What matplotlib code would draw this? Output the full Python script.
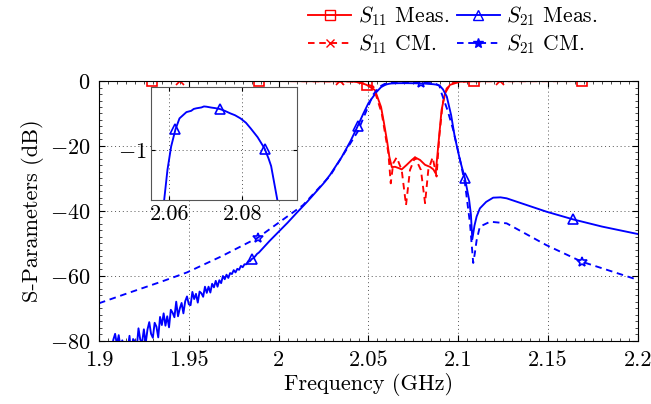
import numpy as np
import matplotlib
matplotlib.use("Agg")
import matplotlib.pyplot as plt
from matplotlib.lines import Line2D
from matplotlib.ticker import MultipleLocator

plt.rcParams['font.family'] = 'serif'
plt.rcParams['font.serif'] = ['cmr10']
plt.rcParams['mathtext.fontset'] = 'cm'
plt.rcParams['axes.formatter.use_mathtext'] = True
plt.rcParams['font.size'] = 16

s21_meas_lo_f = [round(1.900 + 0.001 * i, 3) for i in range(91)]
s21_meas_lo_db = [
    -85.5, -88.0, -83.8, -85.6, -81.4, -85.9, -87.2, -82.9, -79.6, -77.8,
    -81.2, -78.2, -82.2, -79.8, -84.0, -80.9, -82.7, -78.4, -84.9, -79.4,
    -80.1, -82.2, -76.1, -79.6, -80.5, -76.4, -80.8, -76.5, -74.2, -77.8,
    -79.0, -74.4, -75.6, -78.9, -72.6, -75.1, -71.5, -75.3, -72.4, -75.8,
    -70.4, -71.3, -72.7, -67.9, -72.4, -70.0, -68.3, -71.5, -67.8, -66.3,
    -68.7, -69.0, -64.9, -67.1, -65.5, -68.2, -64.8, -65.3, -66.4, -63.3,
    -65.2, -63.3, -65.1, -62.4, -63.5, -61.5, -63.3, -61.3, -62.2, -60.0,
    -61.0, -59.6, -60.6, -59.1, -59.4, -58.2, -58.9, -57.8, -58.1, -56.9,
    -57.3, -56.4, -56.4, -55.5, -55.5, -54.8, -54.5, -53.9, -53.2, -52.8,
    -52.2,
]
s21_meas_hi_f = [
    1.995, 2.000, 2.005, 2.010, 2.016, 2.020, 2.025, 2.0286, 2.035, 2.040,
    2.0434, 2.047, 2.050, 2.0546, 2.057, 2.0586, 2.0595, 2.0605, 2.0617, 2.0628,
    2.0647, 2.0660, 2.0667, 2.0674, 2.0688, 2.0695, 2.0702, 2.0715, 2.0725, 2.0738,
    2.0752, 2.0767, 2.0780, 2.0795, 2.0810, 2.0823, 2.0842, 2.0861, 2.0872, 2.0879,
    2.0896, 2.0915, 2.0936, 2.0960, 2.0980, 2.1010, 2.1037, 2.1060, 2.1070, 2.1078,
    2.1090, 2.1102, 2.1120, 2.1155, 2.1194, 2.1235, 2.1269, 2.1350, 2.1490, 2.1640,
    2.1800, 2.2000,
]
s21_meas_hi_db = [
    -49.2, -46.4, -43.6, -40.6, -37.1, -34.6, -31.5, -28.9, -23.5, -18.5,
    -14.6, -10.2, -6.8, -3.3, -1.9, -1.4, -1.16, -0.975, -0.837, -0.75,
    -0.70, -0.69, -0.675, -0.67, -0.663, -0.655, -0.657, -0.664, -0.668, -0.675,
    -0.69, -0.71, -0.725, -0.75, -0.785, -0.83, -0.90, -0.99, -1.07, -1.13,
    -1.40, -2.6, -4.8, -10.5, -17.1, -24.5, -30.0, -36.5, -41.0, -48.7,
    -44.5, -41.7, -39.2, -37.2, -35.9, -35.8, -36.1, -37.6, -40.2, -42.6,
    -44.8, -47.1,
]
s21_meas_f = np.array(s21_meas_lo_f + s21_meas_hi_f)
s21_meas_db = np.array(s21_meas_lo_db + s21_meas_hi_db)

# --- S21 circuit model
s21_cm_f = np.array([
    1.900, 1.916, 1.935, 1.949, 1.968, 1.9885, 1.995, 2.0136, 2.0286, 2.044,
    2.0525, 2.056, 2.059, 2.063, 2.079, 2.087, 2.0895, 2.0907, 2.094, 2.0972,
    2.1005, 2.1037, 2.1065, 2.1083, 2.1092, 2.1102, 2.112, 2.1177, 2.1269, 2.149,
    2.1687, 2.2,
])
s21_cm_db = np.array([
    -68.4, -65.3, -61.7, -58.9, -54.0, -48.2, -45.6, -38.2, -29.2, -15.6,
    -4.3, -1.8, -0.9, -0.6, -0.5, -0.7, -1.5, -3.8, -9.0, -15.1,
    -23.0, -31.5, -43.8, -56.0, -53.0, -49.0, -44.8, -43.3, -43.8, -50.5,
    -55.6, -61.2,
])

# --- S11 measured
s11_meas_f = np.array([
    1.900, 2.000, 2.040, 2.045, 2.049, 2.0536, 2.057, 2.0585, 2.0605, 2.0616,
    2.063, 2.0648, 2.0668, 2.0685, 2.0713, 2.0741, 2.0759, 2.0787, 2.0815, 2.0842,
    2.0861, 2.0874, 2.0888, 2.0907, 2.0926, 2.0953, 2.1009, 2.110, 2.200,
])
s11_meas_db = np.array([
    0.0, -0.02, -0.1, -0.4, -1.2, -2.8, -8.0, -12.5, -19.0, -23.3,
    -26.5, -26.4, -26.8, -27.2, -25.8, -24.3, -23.5, -24.3, -25.8, -26.4,
    -27.2, -28.4, -20.2, -8.9, -3.8, -1.2, -0.2, -0.05, 0.0,
])

# --- S11 circuit model
s11_cm_f = np.array([
    1.900, 2.000, 2.040, 2.048, 2.0527, 2.0574, 2.0611, 2.0624, 2.0638, 2.0657,
    2.0685, 2.0709, 2.0731, 2.0759, 2.0792, 2.0815, 2.0833, 2.0857, 2.0879, 2.0894,
    2.0913, 2.0935, 2.0972, 2.105, 2.200,
])
s11_cm_db = np.array([
    0.0, -0.02, -0.15, -0.8, -1.7, -10.0, -22.3, -31.5, -25.3, -23.5,
    -27.4, -38.2, -27.4, -23.5, -27.4, -37.6, -27.4, -23.5, -29.4, -17.1,
    -6.9, -2.3, -0.5, -0.1, 0.0,
])

# marker positions along each curve (GHz)
s11_meas_marks = [1.9295, 1.989, 2.049, 2.109, 2.169]
s11_cm_marks = [1.945, 2.034, 2.123]
s21_meas_marks = [1.985, 2.044, 2.1037, 2.164]
s21_meas_inset_marks = [2.0617, 2.0738, 2.0861]
s21_cm_marks = [1.9885, 2.079, 2.1687]

RED = '#ff0000'
BLUE = '#0000ff'
LW = 1.35
DASH = (0, (3.5, 2.5))

fig = plt.figure(figsize=(6.51, 4.04), dpi=100)
ax = fig.add_axes([0.152, 0.156, 0.828, 0.6435])


def draw(a, f, db, marks, color, ls, marker, ms):
    a.plot(f, db, color=color, lw=LW, linestyle=ls)
    if marks:
        a.plot(marks, np.interp(marks, f, db), linestyle='none', marker=marker,
               ms=ms, mfc='none', mec=color, mew=1.2, color=color)


draw(ax, s11_meas_f, s11_meas_db, s11_meas_marks, RED, '-', 's', 7)
draw(ax, s21_meas_f, s21_meas_db, s21_meas_marks, BLUE, '-', '^', 7)
draw(ax, s11_cm_f, s11_cm_db, s11_cm_marks, RED, DASH, 'x', 6)
draw(ax, s21_cm_f, s21_cm_db, s21_cm_marks, BLUE, DASH, '*', 7)

ax.set_xlim(1.9, 2.2)
ax.set_ylim(-80, 0)
ax.set_xticks([1.9, 1.95, 2.0, 2.05, 2.1, 2.15, 2.2])
ax.set_xticklabels(['1.9', '1.95', '2', '2.05', '2.1', '2.15', '2.2'])
ax.set_yticks([-80, -60, -40, -20, 0])
ax.xaxis.set_minor_locator(MultipleLocator(0.005))
ax.yaxis.set_minor_locator(MultipleLocator(2))
ax.tick_params(which='both', direction='in', top=True, right=True)
ax.tick_params(which='major', length=4)
ax.tick_params(axis='x', which='major', pad=7)
ax.tick_params(axis='y', which='major', pad=6)
ax.tick_params(which='minor', length=2, width=0.5)
ax.grid(True, which='major', linestyle=(0, (1, 3)), color='#555555', lw=0.7)
ax.set_xlabel('Frequency (GHz)', labelpad=2)
ax.set_ylabel('S-Parameters (dB)', labelpad=4)

handles = [
    Line2D([], [], color=RED, lw=LW, marker='s', mfc='none', ms=7),
    Line2D([], [], color=RED, lw=LW, ls=DASH, marker='x', ms=6),
    Line2D([], [], color=BLUE, lw=LW, marker='^', mfc='none', ms=7),
    Line2D([], [], color=BLUE, lw=LW, ls=DASH, marker='*', ms=7),
]
labels = [r'$S_{11}$ Meas.', r'$S_{11}$ CM.', r'$S_{21}$ Meas.', r'$S_{21}$ CM.']
fig.legend(handles, labels, ncol=2, loc='upper right', bbox_to_anchor=(0.928, 1.005),
           frameon=False, fontsize=15.5, handlelength=2.0, columnspacing=0.35,
           handletextpad=0.3, labelspacing=0.2, borderaxespad=0.1, borderpad=0.2)

# inset zoom on passband
axi = fig.add_axes([0.232, 0.505, 0.2243, 0.2797])
axi.plot(s21_meas_f, s21_meas_db, color=BLUE, lw=LW)
axi.plot(s21_meas_inset_marks, np.interp(s21_meas_inset_marks, s21_meas_f, s21_meas_db),
         linestyle='none', marker='^', ms=7, mfc='none', mec=BLUE, mew=1.2)
axi.set_xlim(2.055, 2.095)
axi.set_ylim(-1.4, -0.5)
axi.set_xticks([2.06, 2.08])
axi.set_xticklabels(['2.06', '2.08'])
axi.set_yticks([-1])
axi.tick_params(direction='in', top=True, right=True, length=3)
axi.grid(True, linestyle=(0, (1, 3)), color='#555555', lw=0.7)
for s in axi.spines.values():
    s.set_color('#555555')

fig.savefig('out.png', dpi=100)
